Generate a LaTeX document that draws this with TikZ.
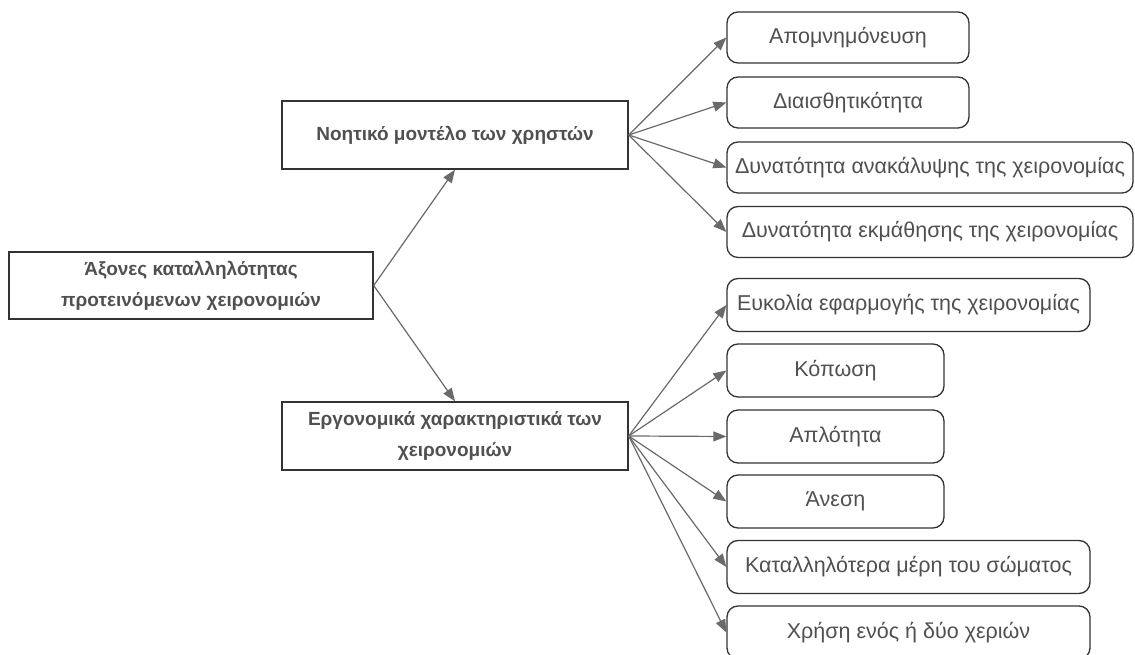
\documentclass[tikz,border=0pt]{standalone}
\usepackage{fontspec}
\setmainfont{Liberation Sans}
\usetikzlibrary{arrows.meta}
\definecolor{txt}{HTML}{505050}
\definecolor{edge}{HTML}{333333}
\definecolor{conn}{HTML}{6A6A6A}
\begin{document}
\begin{tikzpicture}[x=1pt,y=1pt,
  mainbox/.style={draw=edge,line width=1.4pt,rectangle,text=txt,font=\fontsize{19}{31}\selectfont\bfseries,align=center,inner sep=0pt},
  leafbox/.style={draw=edge,line width=1.3pt,rectangle,rounded corners=11pt,text=txt,font=\fontsize{21.5}{24}\selectfont,align=center,inner sep=0pt,minimum height=51pt},
  conn/.style={draw=conn,line width=1.2pt,-{Triangle[length=13pt,width=10pt]}}]
\useasboundingbox (0,0) rectangle (1135,655);
\fill[white] (0,0) rectangle (1135,655);
\node[mainbox,minimum width=364pt,minimum height=67pt] (root) at (191,369.5) {Άξονες καταλληλότητας\\προτεινόμενων χειρονομιών};
\node[mainbox,minimum width=346pt,minimum height=68pt] (noe) at (455,520) {Νοητικό μοντέλο των χρηστών};
\node[mainbox,minimum width=346pt,minimum height=68pt] (erg) at (455,219) {Εργονομικά χαρακτηριστικά των\\χειρονομιών};
% top leaves
\node[leafbox,minimum width=242pt] (a1) at (848,617.5) {Απομνημόνευση};
\node[leafbox,minimum width=242pt] (a2) at (848,552.5) {Διαισθητικότητα};
\node[leafbox,minimum width=406pt] (a3) at (930,487.5) {Δυνατότητα ανακάλυψης της χειρονομίας};
\node[leafbox,minimum width=406pt] (a4) at (930,423) {Δυνατότητα εκμάθησης της χειρονομίας};
% bottom leaves
\node[leafbox,minimum width=363pt,minimum height=53pt] (b1) at (908.5,350) {Ευκολία εφαρμογής της χειρονομίας};
\node[leafbox,minimum width=217pt,minimum height=53pt] (b2) at (835.5,284.5) {Κόπωση};
\node[leafbox,minimum width=217pt,minimum height=53pt] (b3) at (835.5,218.5) {Απλότητα};
\node[leafbox,minimum width=217pt,minimum height=53pt] (b4) at (835.5,153.5) {Άνεση};
\node[leafbox,minimum width=363pt,minimum height=53pt] (b5) at (908.5,88) {Καταλληλότερα μέρη του σώματος};
\node[leafbox,minimum width=363pt,minimum height=53pt] (b6) at (908.5,22.5) {Χρήση ενός ή δύο χεριών};
% connectors
\draw[conn] (root.east) -- (noe.south);
\draw[conn] (root.east) -- (erg.north);
\foreach \t in {a1,a2,a3,a4} \draw[conn] (noe.east) -- (\t.west);
\foreach \t in {b1,b2,b3,b4,b5,b6} \draw[conn] (erg.east) -- (\t.west);
\end{tikzpicture}
\end{document}
